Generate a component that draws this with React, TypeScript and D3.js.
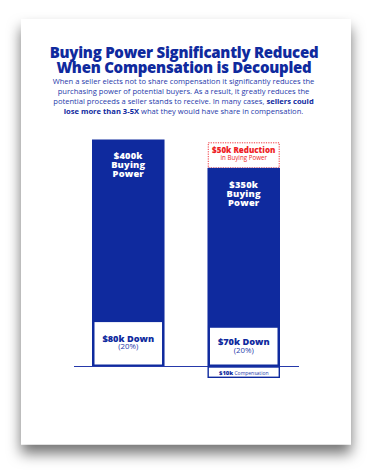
import * as d3 from 'd3'

const W = 372
const H = 474

const BLUE = '#0f2a9e'
const TEXT_BLUE = '#2639aa'
const RED = '#ee1c25'
const FONT = "'Open Sans', 'DejaVu Sans', sans-serif"

// Data
const categories = ['Shared', 'Decoupled']
const buyingPower = [400, 350] // $k
const downPayment = [80, 70] // $k
const downPct = ['(20%)', '(20%)']
const reduction = 50 // $k lost in buying power
const compensation = 10 // $k

const TITLE = ['Buying Power Significantly Reduced', 'When Compensation is Decoupled']

export default function App() {
  const baseY = 366.5
  const y = d3.scaleLinear().domain([0, 400]).range([baseY, 139.5])
  const x = d3.scaleBand().domain(categories).range([92, 280]).paddingInner(0.372).paddingOuter(0)
  const bw = x.bandwidth()

  return (
    <div style={{ position: 'absolute', left: 0, top: 0 }}>
      <svg width={W} height={H} viewBox={`0 0 ${W} ${H}`} style={{ display: 'block', fontFamily: FONT }}>
        <defs>
          <filter id="pageShadow" x="-20%" y="-20%" width="140%" height="140%">
            <feDropShadow dx="0" dy="9" stdDeviation="7" floodColor="#000" floodOpacity="0.55" />
          </filter>
        </defs>
        <rect width={W} height={H} fill="#fff" />
        {/* paper */}
        <rect x={21} y={19} width={330} height={425.5} fill="#fff" filter="url(#pageShadow)" />

        {/* title */}
        {TITLE.map((t, i) => (
          <text key={t} x={184} y={58.3 + i * 14.4} textAnchor="middle" fill={BLUE}
            fontSize={15} fontWeight={800} letterSpacing={-0.25}>
            {t}
          </text>
        ))}

        {/* intro copy */}
        <g fontSize={7.6} fill={TEXT_BLUE} textAnchor="middle">
          <text x={183.5} y={84.3}>When a seller elects not to share compensation it significantly reduces the</text>
          <text x={183.5} y={94.2}>purchasing power of potential buyers. As a result, it greatly reduces the</text>
          <text x={183.5} y={104.2}>
            potential proceeds a seller stands to receive. In many cases, <tspan fontWeight={700} fill={BLUE}>sellers could</tspan>
          </text>
          <text x={183.5} y={114}>
            <tspan fontWeight={700} fill={BLUE}>lose more than 3-5X</tspan> what they would have share in compensation.
          </text>
        </g>

        {/* reduction marker above the decoupled bar */}
        {(() => {
          const bx = x('Decoupled')!
          const top = y(buyingPower[1] + reduction) + 3.3
          const bot = y(buyingPower[1])
          return (
            <g>
              <rect x={bx + 0.8} y={top} width={bw - 1.6} height={bot - top} fill="#fff"
                stroke={RED} strokeWidth={0.9} strokeDasharray="1.2,1.2" />
              <text x={bx + bw / 2} y={top + 10} textAnchor="middle" fill={RED} fontSize={8} fontWeight={800}>
                ${reduction}k Reduction
              </text>
              <text x={bx + bw / 2} y={top + 17} textAnchor="middle" fill={RED} fontSize={6.2}>
                in Buying Power
              </text>
            </g>
          )
        })()}

        {/* bars */}
        {categories.map((c, i) => {
          const bx = x(c)!
          const cx = bx + bw / 2
          const top = y(buyingPower[i])
          const downTop = y(downPayment[i])
          const labelY = top + (i === 0 ? 19.5 : 20)
          const gap = i === 0 ? 8.8 : 9.3
          return (
            <g key={c}>
              <rect x={bx} y={top} width={bw} height={baseY - top} fill={BLUE} />
              <g fill="#fff" fontWeight={800} fontSize={9.3} textAnchor="middle" letterSpacing={0.2}>
                <text x={cx} y={labelY}>${buyingPower[i]}k</text>
                <text x={cx} y={labelY + gap}>Buying</text>
                <text x={cx} y={labelY + gap * 2}>Power</text>
              </g>
              <rect x={bx + 1.5} y={downTop} width={bw - 3} height={baseY - downTop - 1} fill="#fff"
                stroke={BLUE} strokeWidth={2} />
              <text x={cx} y={downTop + (i === 0 ? 20.6 : 18.5)} textAnchor="middle" fill={BLUE}
                fontWeight={800} fontSize={9.2}>
                ${downPayment[i]}k Down
              </text>
              <text x={cx} y={downTop + (i === 0 ? 28.3 : 25.8)} textAnchor="middle" fill={TEXT_BLUE} fontSize={7.8}>
                {downPct[i]}
              </text>
            </g>
          )
        })}

        {/* baseline */}
        <line x1={74} x2={299} y1={baseY} y2={baseY} stroke={TEXT_BLUE} strokeWidth={1} />

        {/* compensation box below the decoupled bar */}
        {(() => {
          const bx = x('Decoupled')!
          return (
            <g>
              <rect x={bx + 0.7} y={baseY + 0.5} width={bw - 1.4} height={10.3} fill="#fff" stroke={BLUE} strokeWidth={1.4} />
              <text x={bx + bw / 2} y={baseY + 8} textAnchor="middle" fill={BLUE} fontSize={5.9}>
                <tspan fontWeight={800}>${compensation}k</tspan>
                <tspan fill={TEXT_BLUE} fontSize={5}> Compensation</tspan>
              </text>
            </g>
          )
        })()}
      </svg>
    </div>
  )
}
